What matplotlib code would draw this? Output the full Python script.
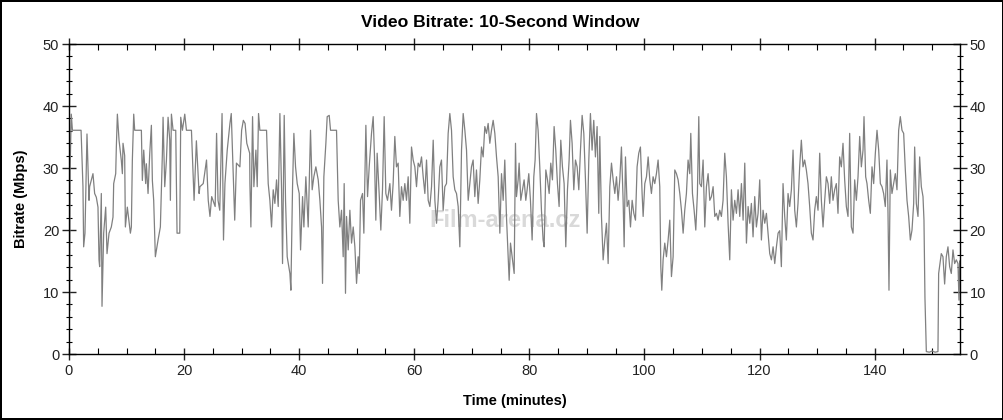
import matplotlib
matplotlib.use("Agg")
import matplotlib.pyplot as plt
from matplotlib.ticker import MultipleLocator

plt.rcParams['font.family'] = ['Liberation Sans', 'DejaVu Sans']

# 时间（分钟）和码率（Mbps）
minutes = [
    0.0, 0.1, 0.2, 0.4, 0.6, 1.5, 2.1, 2.43, 2.55, 2.78, 3.13, 3.48, 3.59, 4.17, 4.46, 4.75,
    5.04, 5.22, 5.33, 5.62, 5.74, 6.03, 6.38, 6.61, 6.96, 7.36, 7.65, 7.77, 8.12, 8.23, 8.41,
    8.7, 9.1, 9.28, 9.39, 9.68, 9.8, 10.14, 10.67, 10.84, 11.01, 11.25, 11.42, 12.58, 12.75,
    12.99, 13.33, 13.45, 13.74, 14.03, 14.32, 14.49, 14.72, 15.01, 15.48, 15.88, 16.23, 16.35,
    16.64, 16.93, 17.22, 17.51, 17.62, 17.8, 18.09, 18.55, 18.78, 19.25, 19.42, 19.71, 20.12,
    20.41, 21.28, 21.74, 22.14, 22.61,
    22.75, 23.33, 23.9, 24.2, 24.5, 24.8, 25.4, 25.65, 25.9, 26.2, 26.6, 26.85, 27.1, 27.5,
    27.97, 28.2, 28.5, 28.8, 29.1, 29.7, 30.0, 30.3, 30.6, 30.9, 31.4,
    31.44, 31.61, 31.9, 32.13, 32.48, 32.71, 32.94, 33.17, 34.33, 34.62, 34.91, 35.2, 35.49,
    35.78, 36.07, 36.36, 36.65, 36.94, 37.11, 37.4, 37.63, 37.92, 38.39, 38.56, 38.85, 39.08,
    39.37, 39.66, 40.01, 40.24, 40.59, 40.82, 41.16, 41.57, 41.97, 42.26, 42.55, 42.9, 43.31,
    43.6, 43.89, 44.06, 44.29, 44.64, 44.87, 45.22, 45.45, 46.49, 46.78, 47.07, 47.36, 47.65,
    47.82, 48.05, 48.23, 48.52, 48.81, 49.1, 49.39, 49.68, 49.97, 50.25, 50.43, 50.66, 51.01,
    51.24, 51.59, 51.88, 52.17, 52.57, 52.86, 53.09, 53.32, 53.55, 53.9, 54.19, 54.48, 54.77,
    55.06, 55.35, 55.76, 56.04, 56.33, 56.62, 56.91, 57.2, 57.49, 57.78, 58.07, 58.36, 58.65,
    58.94, 59.23, 59.52, 59.81, 60.1, 60.39, 60.68,
    60.97, 61.26, 61.55, 61.84, 62.13, 62.42, 62.71, 63.0, 63.29, 63.58, 63.87, 64.15, 64.44,
    64.73, 65.02, 65.31, 65.6, 65.89, 66.18, 66.47, 66.76, 67.05, 67.34, 67.63, 67.92, 68.21,
    68.5, 68.79, 69.08, 69.37, 69.66, 69.94, 70.23, 70.52, 70.81, 71.1, 71.39, 71.68, 71.97,
    72.26, 72.55, 72.84, 73.13, 73.42, 73.71, 74.0, 74.29, 74.58, 74.87, 75.16, 75.45, 75.73,
    76.02, 76.31, 76.49, 76.72, 77.07, 77.36, 77.59, 77.76, 78.05, 78.22, 78.51, 78.8, 79.09,
    79.38, 79.61, 79.9, 80.19, 80.48, 80.77, 81.0, 81.24, 81.52, 81.81, 82.1, 82.39, 82.57,
    82.86, 83.15, 83.44, 83.72, 84.01, 84.3, 84.59, 84.88, 85.17, 85.46, 85.75, 86.04, 86.33,
    86.62, 86.91, 87.14, 87.43, 87.72, 88.01, 88.3, 88.59, 88.88, 89.17, 89.46, 89.75, 90.04,
    90.33, 90.61, 90.9, 91.19, 91.48, 91.77, 92.06,
    92.24, 92.53, 92.82, 93.11, 93.4, 93.69, 93.98, 94.27, 94.56, 94.85, 95.14, 95.42, 95.71,
    96.0, 96.29, 96.47, 96.7, 96.99, 97.28, 97.57, 97.86, 98.15, 98.44, 98.72, 99.01, 99.3,
    99.59, 99.77, 100.06, 100.35, 100.64, 100.93, 101.21, 101.5, 101.79, 102.08, 102.37, 102.66,
    102.84, 103.01, 103.24, 103.53, 103.82, 104.11, 104.4, 104.69, 104.98, 105.27, 105.56,
    105.85, 106.14, 106.43, 106.72, 107.0, 107.29, 107.58, 107.87, 108.05, 108.34, 108.63,
    108.92, 109.2, 109.44, 109.61, 109.9, 110.19, 110.48, 110.77, 111.06, 111.35, 111.64,
    111.93, 112.22, 112.51, 112.79, 113.08, 113.37, 113.66, 113.95, 114.24, 114.53, 114.82,
    115.11, 115.4, 115.69, 115.98, 116.27, 116.56, 116.85, 117.14, 117.43, 117.72, 118.01,
    118.3, 118.58, 118.87, 119.16, 119.45, 119.74, 120.03, 120.32, 120.61, 120.9, 121.19,
    121.48, 121.77, 122.06, 122.35, 122.64, 122.93, 123.22,
    123.5, 123.79, 124.08, 124.37, 124.66, 124.95, 125.24, 125.53, 125.82, 126.11, 126.4,
    126.68, 126.97, 127.26, 127.55, 127.84, 128.13, 128.42, 128.71, 129.0, 129.29, 129.58,
    129.87, 130.16, 130.45, 130.74, 131.03, 131.32, 131.61, 131.9, 132.19, 132.47, 132.76,
    133.05, 133.34, 133.63, 133.92, 134.21, 134.5, 134.79, 135.08, 135.37, 135.66, 135.95,
    136.24, 136.53, 136.82, 137.11, 137.4, 137.69, 137.98, 138.15, 138.44, 138.67, 138.96,
    139.25, 139.54, 139.83, 140.12, 140.41, 140.7, 140.99, 141.28, 141.56, 141.85, 142.14,
    142.32, 142.49, 142.72, 143.01, 143.3, 143.59, 143.88, 144.17, 144.46, 144.75, 145.04,
    145.33, 145.62, 145.91, 146.2, 146.49, 146.78, 146.95, 147.24, 147.53, 147.82, 148.11,
    148.4, 148.57, 148.74, 148.98, 149.5, 150.0, 150.5, 151.0, 151.12, 151.58, 151.87, 152.16,
    152.45, 152.74, 153.03, 153.32, 153.61, 153.9, 154.19, 154.48, 154.65, 154.77,
]

bitrate = [
    26, 7, 30, 38.7, 36.1, 36.1, 36.1, 27.0, 17.3, 19.5, 35.5, 24.8, 27.0, 29.1, 25.9, 25.3,
    23.7, 15.2, 14.1, 25.9, 7.7, 19.5, 23.7, 16.2, 19.5, 20.5, 22.1, 27.5, 29.1, 33.4, 38.7,
    34.5, 31.2, 29.1, 34.0, 32.0, 20.5, 23.7, 19.5, 20.5, 31.2, 38.7, 36.1, 36.1, 28.0,
    32.9, 27.5, 30.7, 25.9, 32.3, 36.9, 28.0, 24.8, 15.7, 18.4, 20.5, 32.3, 38.2,
    27.0, 31.2, 38.2, 34.5, 24.8, 38.7, 36.1, 36.1, 19.5, 19.5, 38.2, 36.1, 38.7,
    36.1, 36.1, 24.8, 34.4, 25.9,
    27.0, 27.5, 31.3, 24.8, 22.2, 25.4, 23.8, 35.6, 24.8, 23.2, 38.8, 18.4, 27.5, 32.9,
    37.2, 38.8, 30.2, 21.6, 30.8, 30.2, 36.1, 37.7, 37.2, 34.0, 32.4,
    27.5, 20.5, 38.3, 27.0, 32.9, 27.0, 38.8, 36.1, 36.1, 27.5, 24.8, 20.5, 26.5,
    24.3, 28.1, 23.8, 38.8, 26.5, 14.6, 38.5, 24.8, 15.7, 13.0, 10.3, 27.0, 35.6,
    30.2, 27.5, 25.9, 16.8, 25.4, 20.5, 28.6, 20.5, 36.1, 26.5, 28.6, 30.2, 28.1,
    24.8, 20.5, 11.4, 28.6, 34.0, 38.3, 38.5, 36.1, 36.1, 24.8, 20.5, 23.2, 15.7,
    27.5, 9.8, 22.2, 16.8, 23.2, 17.9, 20.5, 17.3, 11.4, 15.7, 13.0, 24.8, 25.9,
    19.5, 36.9, 25.4, 30.2, 35.6, 38.3, 31.8, 21.6, 32.4, 25.9, 20.0, 26.5, 38.3,
    25.9, 24.8, 27.5, 23.2, 27.5, 35.1, 30.2, 30.8, 22.2, 27.0, 24.8, 27.5, 24.8,
    28.6, 21.1, 33.4, 31.3, 30.2, 27.0, 30.8,
    30.2, 31.8, 28.6, 25.9, 31.3, 24.8, 23.8, 27.0, 34.5, 24.8, 21.1, 24.8, 30.2,
    31.3, 23.2, 27.0, 27.5, 35.6, 38.8, 36.1, 28.6, 26.5, 25.9, 23.8, 17.3, 32.9,
    38.8, 36.1, 32.9, 24.8, 27.5, 30.2, 31.3, 25.4, 29.7, 24.3, 28.1, 33.4, 31.8,
    36.7, 35.6, 37.2, 34.0, 36.1, 37.7, 35.6, 31.8, 28.6, 19.5, 29.1, 24.8, 31.3,
    22.2, 15.7, 11.9, 17.9, 15.2, 13.0, 34.0, 25.4, 28.1, 30.8, 24.8, 26.5, 28.1,
    24.8, 26.5, 29.1, 24.8, 18.4, 28.6, 31.3, 38.8, 36.1, 30.2, 23.2, 18.4, 17.3,
    29.7, 28.1, 25.9, 30.8, 28.1, 36.7, 32.9, 27.5, 23.8, 34.5, 30.2, 27.5, 17.3,
    26.5, 31.3, 37.7, 34.0, 26.5, 31.3, 30.2, 26.5, 32.9, 38.5, 35.6, 28.1, 19.5,
    31.3, 38.8, 32.9, 37.7, 31.8, 36.7, 22.7,
    35.1, 22.2, 15.2, 18.4, 21.1, 14.6, 27.0, 30.8, 28.1, 25.9, 28.6, 24.8, 28.1,
    33.4, 24.8, 17.3, 31.8, 23.8, 24.8, 20.5, 24.8, 22.7, 21.6, 30.2, 32.4, 33.4,
    25.9, 22.2, 27.5, 28.6, 31.8, 28.1, 25.9, 28.6, 27.5, 29.1, 31.3, 27.0,
    14.1, 10.3, 15.2, 17.9, 15.7, 18.4, 21.6, 12.5, 15.7, 29.7, 29.1,
    28.1, 25.9, 23.2, 19.5, 23.2, 25.9, 31.3, 29.1, 35.6, 25.9, 23.2,
    20.0, 25.9, 38.3, 27.5, 27.0, 31.3, 20.5, 27.0, 29.1, 24.8, 25.4,
    27.0, 22.2, 22.7, 21.6, 23.2, 22.2, 24.8, 32.4, 28.6, 21.1, 15.2,
    26.5, 21.6, 24.8, 22.7, 26.5, 22.2, 27.5, 21.6, 30.8, 17.9, 23.8,
    21.1, 24.3, 18.9, 25.4, 20.5, 22.7, 28.1, 18.4, 23.2, 21.1, 22.7,
    19.5, 16.2, 15.2, 17.3, 14.6, 17.3, 19.5,
    19.9, 14.1, 27.5, 22.2, 18.4, 25.9, 23.8, 26.5, 32.9, 23.2, 20.5,
    24.3, 30.2, 34.5, 30.2, 31.3, 29.7, 27.5, 23.8, 19.5, 18.4, 23.2,
    25.4, 23.2, 32.4, 24.8, 20.5, 24.8, 28.6, 27.5, 24.3, 28.6, 24.8,
    26.5, 27.5, 22.7, 31.8, 30.2, 34.0, 28.1, 23.8, 22.2, 35.6, 20.5,
    19.5, 28.1, 24.8, 28.6, 35.1, 30.2, 32.9, 38.3, 28.6, 27.5, 24.8,
    22.7, 30.2, 27.5, 32.4, 36.1, 32.9, 27.5, 27.0, 25.9, 23.8, 31.3,
    22.7, 10.3, 29.7, 25.9, 27.5, 29.1, 26.5, 36.1, 38.3, 36.1, 35.6,
    29.7, 24.8, 22.2, 18.4, 20.0, 24.3, 33.4, 24.3, 22.2, 31.8, 27.0,
    25.4, 21.6, 9.1, 0.4, 0.3, 0.5, 0.3, 0.4, 13.0, 16.2, 15.7, 11.3,
    15.7, 17.3, 14.1, 13.0, 16.8, 14.6, 15.2, 14.6, 8.7, 15.0,
]

x_ticks = [0, 20, 40, 60, 80, 100, 120, 140]
y_ticks = [0, 10, 20, 30, 40, 50]

fig = plt.figure(figsize=(10.04, 4.2), dpi=100, edgecolor='black', linewidth=1.5)
ax = fig.add_axes([0.0687, 0.157, 0.8873, 0.738])

# 水印
ax.text(0.49, 0.43, 'Film-arena.cz', transform=ax.transAxes, fontsize=17, fontweight='bold',
        color='#d9d9d9', ha='center', va='center', zorder=1)

ax.plot(minutes, bitrate, color='#808080', linewidth=0.9, zorder=2)

ax.set_xlim(0, 154.8)
ax.set_ylim(0, 50)
ax.set_xticks(x_ticks)
ax.set_yticks(y_ticks)
ax.xaxis.set_minor_locator(MultipleLocator(5))
ax.yaxis.set_minor_locator(MultipleLocator(2))

ax.tick_params(axis='y', which='major', direction='inout', length=10, width=1,
               left=True, right=True, labelleft=True, labelright=True,
               labelsize=10.5, colors='#222222', pad=2)
ax.tick_params(axis='y', which='minor', direction='inout', length=5, width=0.8,
               left=True, right=True)
ax.tick_params(axis='x', which='major', direction='inout', length=9, width=1,
               top=True, bottom=True, labelsize=10.5, colors='#222222', pad=3)
ax.tick_params(axis='x', which='minor', direction='in', length=4, width=0.8,
               top=True, bottom=True)

for s in ax.spines.values():
    s.set_linewidth(1.0)

fig.suptitle('Video Bitrate: 10-Second Window', x=0.498, y=0.965, fontsize=12.6, fontweight='bold')
ax.set_xlabel('Time (minutes)', fontsize=10.5, fontweight='bold', labelpad=11)
ax.set_ylabel('Bitrate (Mbps)', fontsize=10.5, fontweight='bold', labelpad=11)

fig.savefig('out.png', dpi=100, edgecolor=fig.get_edgecolor())
